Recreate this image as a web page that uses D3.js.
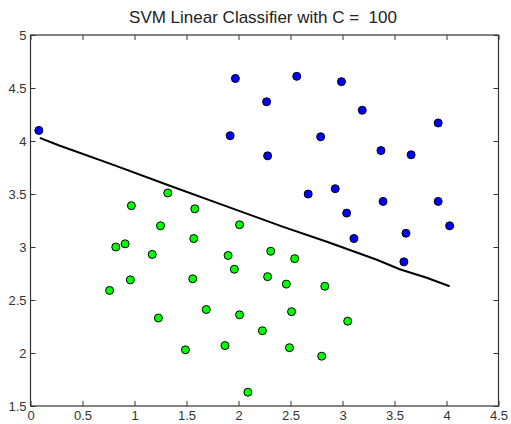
<!DOCTYPE html>
<html>
<head>
<meta charset="utf-8">
<script src="https://cdn.jsdelivr.net/npm/d3@7"></script>
<style>
  body { margin: 0; background: #fff; }
  text { font-family: "Liberation Sans", Arial, sans-serif; }
</style>
</head>
<body>
<svg id="chart" width="511" height="424"></svg>
<script>
// class +1 (blue)
var blueX = [0.08, 1.97, 2.56, 2.99, 2.27, 3.19, 3.92, 1.92, 2.79, 2.28, 3.37, 3.66, 2.67, 2.93, 3.39, 3.92, 3.04, 4.03, 3.11, 3.61, 3.59];
var blueY = [4.10, 4.59, 4.61, 4.56, 4.37, 4.29, 4.17, 4.05, 4.04, 3.86, 3.91, 3.87, 3.50, 3.55, 3.43, 3.43, 3.32, 3.20, 3.08, 3.13, 2.86];

// class -1 (green)
var greenX = [1.32, 0.97, 1.58, 1.25, 2.01, 1.57, 0.82, 0.91, 1.17, 1.90, 1.96, 0.96, 1.56, 0.76, 1.69, 1.23, 2.01, 2.23, 1.49, 1.87, 2.09, 2.31, 2.54, 2.28, 2.46, 2.83, 2.51, 3.05, 2.49, 2.80];
var greenY = [3.51, 3.39, 3.36, 3.20, 3.21, 3.08, 3.00, 3.03, 2.93, 2.92, 2.79, 2.69, 2.70, 2.59, 2.41, 2.33, 2.36, 2.21, 2.03, 2.07, 1.63, 2.96, 2.89, 2.72, 2.65, 2.63, 2.39, 2.30, 2.05, 1.97];

// decision boundary
var boundX = [0.09, 0.27, 0.81, 1.32, 1.84, 2.43, 2.85, 3.33, 3.55, 3.81, 4.03];
var boundY = [4.03, 3.96, 3.77, 3.585, 3.40, 3.19, 3.05, 2.88, 2.79, 2.71, 2.63];

var xTicks = [0, 0.5, 1, 1.5, 2, 2.5, 3, 3.5, 4, 4.5];
var yTicks = [1.5, 2, 2.5, 3, 3.5, 4, 4.5, 5];

var svg = d3.select("#chart");
var plotL = 30.5, plotR = 498.5, plotT = 35, plotB = 406;

var x = d3.scaleLinear().domain([0, 4.5]).range([plotL, plotR]);
var y = d3.scaleLinear().domain([1.5, 5]).range([plotB, plotT]);

svg.append("text")
	.attr("x", 263).attr("y", 23)
	.attr("text-anchor", "middle")
	.attr("font-size", "17px")
	.attr("fill", "#222")
	.style("white-space", "pre")
	.text("SVM Linear Classifier with C =  100");

function styleAxis(g) {
	g.select(".domain").remove();
	g.selectAll("line").attr("stroke", "#333");
	g.selectAll("text").attr("fill", "#333").attr("font-size", "13px");
}

svg.append("g")
	.attr("transform", "translate(0," + plotB + ")")
	.call(d3.axisBottom(x).tickValues(xTicks).tickSize(-5).tickPadding(5).tickFormat(d3.format("")))
	.call(styleAxis);

svg.append("g")
	.attr("transform", "translate(" + plotL + ",0)")
	.call(d3.axisLeft(y).tickValues(yTicks).tickSize(-5).tickPadding(4).tickFormat(d3.format("")))
	.call(styleAxis);

svg.append("g")
	.attr("transform", "translate(0," + plotT + ")")
	.call(d3.axisTop(x).tickValues(xTicks).tickSize(-5).tickFormat(""))
	.call(styleAxis);

svg.append("g")
	.attr("transform", "translate(" + plotR + ",0)")
	.call(d3.axisRight(y).tickValues(yTicks).tickSize(-5).tickFormat(""))
	.call(styleAxis);

svg.append("rect")
	.attr("x", plotL).attr("y", plotT)
	.attr("width", plotR - plotL).attr("height", plotB - plotT)
	.attr("fill", "none").attr("stroke", "#333").attr("stroke-width", 1.2);

var line = d3.line()
	.x(function(d) { return x(d[0]); })
	.y(function(d) { return y(d[1]); });

svg.append("path")
	.datum(d3.zip(boundX, boundY))
	.attr("d", line)
	.attr("fill", "none")
	.attr("stroke", "#000")
	.attr("stroke-width", 2);

function drawPoints(xs, ys, color) {
	svg.append("g").selectAll("circle")
		.data(d3.zip(xs, ys))
		.enter()
		.append("circle")
		.attr("cx", function(d) { return x(d[0]); })
		.attr("cy", function(d) { return y(d[1]); })
		.attr("r", 4)
		.attr("fill", color)
		.attr("stroke", "#000")
		.attr("stroke-width", 1);
}

drawPoints(blueX, blueY, "#0000ff");
drawPoints(greenX, greenY, "#00ff00");
</script>
</body>
</html>
